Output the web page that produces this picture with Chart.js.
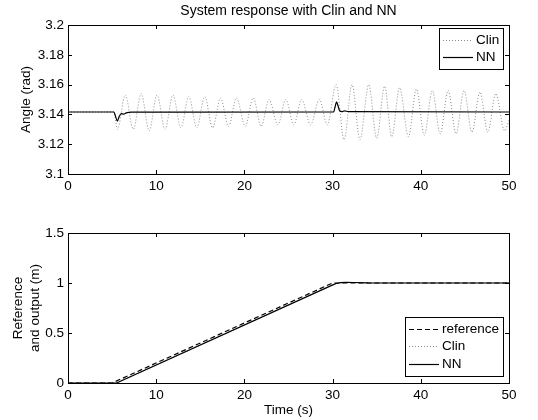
<!DOCTYPE html>
<html>
<head>
<meta charset="utf-8">
<script src="https://cdn.jsdelivr.net/npm/chart.js@4/dist/chart.umd.min.js"></script>
<style>
  html, body { margin: 0; padding: 0; background: #fff; }
  #wrap { position: relative; width: 538px; height: 420px; font-family: 'Liberation Sans', Arial, sans-serif; }
  #title { position: absolute; left: 68px; width: 441px; top: 3px; text-align: center; font-size: 14px; line-height: 15px; color: #000; }
  .panel { position: absolute; left: 0; width: 538px; }
</style>
</head>
<body>
<div id="wrap">
  <div class="panel" style="top:0;height:200px"><canvas id="angleChart"></canvas></div>
  <div class="panel" style="top:200px;height:220px"><canvas id="posChart"></canvas></div>
  <div id="title">System response with Clin and NN</div>
</div>
<script>
// tick labels
const timeTicks = [0, 10, 20, 30, 40, 50];
const angleTicks = [3.1, 3.12, 3.14, 3.16, 3.18, 3.2];
const posTicks = [0, 0.5, 1, 1.5];

// top panel: pendulum angle, Clin controller (peaks and troughs)
const clinAngleT = [0, 5.2, 5.6, 6.5, 7.4, 8.3, 9.2, 10.1, 11.0, 11.9, 12.8, 13.7, 14.6, 15.5, 16.4, 17.3,
  18.2, 19.1, 20.1, 21.0, 21.9, 22.8, 23.8, 24.7, 25.6, 26.5, 27.5, 28.5, 29.4,
  30.4, 31.3, 32.2, 33.1, 34.1, 35.0, 35.9, 36.7, 37.6, 38.6, 39.5, 40.4, 41.3, 42.2, 43.1,
  44.0, 44.9, 45.8, 46.7, 47.6, 48.5, 49.5, 50];
const clinAngleV = [3.1416, 3.1416, 3.130, 3.153, 3.130, 3.154, 3.129, 3.153, 3.130, 3.153, 3.131, 3.152, 3.131, 3.152, 3.131, 3.151,
  3.132, 3.151, 3.132, 3.151, 3.132, 3.150, 3.133, 3.150, 3.133, 3.150, 3.133, 3.150, 3.133,
  3.160, 3.123, 3.160, 3.123, 3.160, 3.124, 3.159, 3.125, 3.158, 3.125, 3.157, 3.126, 3.156, 3.127, 3.156,
  3.127, 3.156, 3.128, 3.155, 3.128, 3.154, 3.129, 3.136];

// top panel: NN controller
const nnAngleT = [0, 5.2, 5.4, 5.6, 5.8, 6.05, 6.3, 6.6, 7.2, 30.1, 30.3, 30.45, 30.6, 30.8, 31.05, 31.35, 31.8, 50];
const nnAngleV = [3.1416, 3.1416, 3.1385, 3.1355, 3.1385, 3.1405, 3.1402, 3.1410, 3.1415, 3.1416, 3.1455, 3.1485, 3.1460, 3.1425, 3.1418, 3.1424, 3.1418, 3.1416];

// bottom panel: cart position
const refPosT = [0, 5, 30, 50];
const refPosV = [0, 0, 1, 1];
const clinPosT = [0, 5.5, 29.9, 30.4, 30.9, 31.5, 32.4, 34, 50];
const clinPosV = [0, 0, 0.976, 0.994, 1.003, 1.006, 1.004, 1.001, 1.0];
const nnPosT = [0, 5.5, 29.9, 30.4, 30.9, 31.5, 32.4, 34, 50];
const nnPosV = [0, 0, 0.976, 0.995, 1.004, 1.007, 1.005, 1.001, 1.0];

const FONT = "'Liberation Sans', Arial, sans-serif";
const FONT_SIZE = 13.5;
Chart.defaults.font.family = FONT;
Chart.defaults.font.size = FONT_SIZE;
Chart.defaults.color = '#000';

function toPoints(ts, vs) {
  return ts.map((t, i) => ({ x: t, y: vs[i] }));
}

// MATLAB style box with inward ticks on all four sides
const boxAxes = {
  id: 'boxAxes',
  afterDraw(chart) {
    const { ctx, chartArea: a, scales: { x, y } } = chart;
    const len = 4;
    ctx.save();
    ctx.strokeStyle = '#000';
    ctx.lineWidth = 1;
    ctx.beginPath();
    x.ticks.forEach(t => {
      const px = Math.round(x.getPixelForValue(t.value)) + 0.5;
      ctx.moveTo(px, a.bottom); ctx.lineTo(px, a.bottom - len);
      ctx.moveTo(px, a.top); ctx.lineTo(px, a.top + len);
    });
    y.ticks.forEach(t => {
      const py = Math.round(y.getPixelForValue(t.value)) + 0.5;
      ctx.moveTo(a.left, py); ctx.lineTo(a.left + len, py);
      ctx.moveTo(a.right, py); ctx.lineTo(a.right - len, py);
    });
    ctx.stroke();
    ctx.strokeRect(Math.round(a.left) + 0.5, Math.round(a.top) + 0.5, Math.round(a.width), Math.round(a.height));
    ctx.restore();
  }
};

// legend drawn inside the axes, in a box
const boxLegend = {
  id: 'boxLegend',
  afterDraw(chart, args, opts) {
    const { ctx, chartArea: a } = chart;
    const items = chart.data.datasets;
    ctx.save();
    ctx.font = FONT_SIZE + 'px ' + FONT;
    const textW = Math.max(...items.map(d => ctx.measureText(d.label).width));
    const lineLen = 30, padL = 4, gap = 3, padR = 4, rowH = 17.5, padV = 3;
    const w = Math.round(padL + lineLen + gap + textW + padR);
    const h = Math.round(padV * 2 + rowH * items.length);
    const left = Math.round(a.right - 6 - w);
    const top = opts.corner === 'ne' ? Math.round(a.top + 3) : Math.round(a.bottom - 7 - h);
    ctx.fillStyle = '#fff';
    ctx.fillRect(left, top, w, h);
    ctx.strokeStyle = '#000';
    ctx.lineWidth = 1;
    ctx.strokeRect(left + 0.5, top + 0.5, w, h);
    items.forEach((d, i) => {
      const cy = Math.round(top + padV + rowH * (i + 0.5)) + 0.5;
      ctx.beginPath();
      ctx.setLineDash(d.borderDash || []);
      ctx.strokeStyle = d.borderColor;
      ctx.lineWidth = d.borderWidth;
      ctx.moveTo(left + padL, cy);
      ctx.lineTo(left + padL + lineLen, cy);
      ctx.stroke();
      ctx.setLineDash([]);
      ctx.fillStyle = '#000';
      ctx.textBaseline = 'middle';
      ctx.textAlign = 'left';
      ctx.fillText(d.label, left + padL + lineLen + gap, cy);
    });
    ctx.restore();
  }
};

function makeChart(id, datasets, cfg) {
  return new Chart(document.getElementById(id), {
    type: 'line',
    data: { datasets: datasets },
    plugins: [boxAxes, boxLegend],
    options: {
      responsive: true,
      maintainAspectRatio: false,
      animation: false,
      layout: { padding: { left: 0, right: 29, top: cfg.padTop, bottom: 0 } },
      elements: { point: { radius: 0 } },
      plugins: {
        legend: { display: false },
        tooltip: { enabled: false },
        boxLegend: { corner: cfg.corner }
      },
      scales: {
        x: {
          type: 'linear',
          min: 0,
          max: 50,
          afterBuildTicks: s => { s.ticks = timeTicks.map(v => ({ value: v })); },
          afterFit: s => { s.height = cfg.xHeight; },
          grid: { display: false, drawTicks: false },
          border: { display: false },
          ticks: { padding: 4, maxRotation: 0, autoSkip: false, callback: v => String(v) },
          title: cfg.xTitle ? { display: true, text: cfg.xTitle, padding: { top: 0, bottom: 2 } } : { display: false }
        },
        y: {
          min: cfg.yMin,
          max: cfg.yMax,
          afterBuildTicks: s => { s.ticks = cfg.yTicks.map(v => ({ value: v })); },
          afterFit: s => { s.width = 68; },
          grid: { display: false, drawTicks: false },
          border: { display: false },
          ticks: { padding: 4, callback: v => String(v) },
          title: { display: true, text: cfg.yTitle, padding: { top: cfg.yTitlePad, bottom: 0 }, font: { size: FONT_SIZE, lineHeight: 1.25 } }
        }
      }
    }
  });
}

makeChart('angleChart', [
  { label: 'Clin', data: toPoints(clinAngleT, clinAngleV), borderColor: '#8a8a8a', borderWidth: 1, borderDash: [1, 2], cubicInterpolationMode: 'monotone', order: 2 },
  { label: 'NN', data: toPoints(nnAngleT, nnAngleV), borderColor: '#000', borderWidth: 1.2, cubicInterpolationMode: 'monotone', order: 0 }
], { padTop: 25, xHeight: 26, yMin: 3.1, yMax: 3.2, yTicks: angleTicks, yTitle: 'Angle (rad)', yTitlePad: 18, corner: 'ne' });

makeChart('posChart', [
  { label: 'reference', data: toPoints(refPosT, refPosV), borderColor: '#000', borderWidth: 1.2, borderDash: [5, 3], tension: 0, order: 1 },
  { label: 'Clin', data: toPoints(clinPosT, clinPosV), borderColor: '#8a8a8a', borderWidth: 1, borderDash: [1, 2], tension: 0, order: 2 },
  { label: 'NN', data: toPoints(nnPosT, nnPosV), borderColor: '#000', borderWidth: 1.2, tension: 0, order: 0 }
], { padTop: 33, xHeight: 37, yMin: 0, yMax: 1.5, yTicks: posTicks, yTitle: ['Reference', 'and output (m)'], yTitlePad: 10, corner: 'se', xTitle: 'Time (s)' });
</script>
</body>
</html>
